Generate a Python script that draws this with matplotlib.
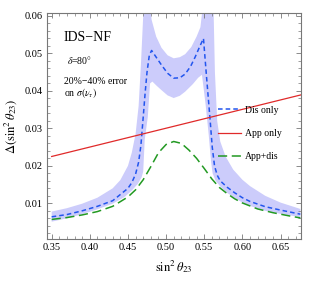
import numpy as np
import matplotlib
matplotlib.use('Agg')
import matplotlib.pyplot as plt
from matplotlib.ticker import MultipleLocator

plt.rcParams['font.family'] = ['Liberation Serif', 'DejaVu Serif']
plt.rcParams['mathtext.fontset'] = 'stix'

# Dis only (central curve)
dis_x = [0.35, 0.37, 0.39, 0.41, 0.43, 0.45, 0.455, 0.46, 0.464, 0.467, 0.470, 0.4725, 0.475, 0.478,
         0.481, 0.487, 0.494, 0.502, 0.51, 0.518, 0.525, 0.532, 0.538, 0.544, 0.549,
         0.553, 0.5577, 0.5605, 0.5635, 0.567, 0.571, 0.58, 0.59, 0.60, 0.61, 0.63, 0.65, 0.676]
dis_y = [0.0064, 0.0070, 0.0080, 0.0092, 0.0107, 0.0140, 0.0155, 0.0178, 0.0210, 0.0255, 0.0330, 0.0394,
         0.0450, 0.0495, 0.0508, 0.0490, 0.0469, 0.0447, 0.0434, 0.0435, 0.0445, 0.0465, 0.0490, 0.0518,
         0.0540, 0.0438, 0.0323, 0.0250, 0.0200, 0.0175, 0.0160, 0.0143, 0.0128, 0.0115, 0.0105, 0.0091,
         0.0082, 0.0071]

# Dis only error band (20%-40% error on sigma(nu_tau))
band_hi_x = [0.35, 0.37, 0.39, 0.41, 0.43, 0.44, 0.45, 0.455, 0.46, 0.464, 0.467, 0.470, 0.472,
             0.478, 0.481, 0.487, 0.494, 0.502, 0.51, 0.518, 0.525, 0.533, 0.540, 0.545, 0.549,
             0.562, 0.564, 0.567, 0.571, 0.578, 0.588, 0.60, 0.61, 0.63, 0.65, 0.676]
band_hi = [0.0078, 0.0087, 0.0099, 0.0115, 0.0140, 0.0162, 0.0200, 0.0235, 0.0285, 0.0360, 0.0470, 0.0600,
           0.0660, 0.0660, 0.0590, 0.0545, 0.0515, 0.0495, 0.0487, 0.0490, 0.0498, 0.0517, 0.0545, 0.0570,
           0.0640, 0.0640, 0.0450, 0.0320, 0.0265, 0.0225, 0.0190, 0.0163, 0.0146, 0.0120, 0.0102, 0.0085]
band_lo_x = [0.35, 0.37, 0.39, 0.41, 0.43, 0.445, 0.455, 0.463, 0.468, 0.470, 0.472, 0.476, 0.479,
             0.482, 0.488, 0.494, 0.502, 0.51, 0.518, 0.525, 0.535, 0.542, 0.547, 0.549, 0.552,
             0.556, 0.559, 0.561, 0.565, 0.571, 0.58, 0.59, 0.60, 0.61, 0.63, 0.65, 0.676]
band_lo = [0.0051, 0.0060, 0.0071, 0.0084, 0.0099, 0.0116, 0.0134, 0.0152, 0.0170, 0.0185, 0.0270, 0.0330,
           0.0420, 0.0425, 0.0413, 0.0402, 0.0388, 0.0381, 0.0387, 0.0398, 0.0418, 0.0435, 0.0443, 0.0410,
           0.0360, 0.0280, 0.0210, 0.0180, 0.0160, 0.0145, 0.0128, 0.0114, 0.0102, 0.0093, 0.0080, 0.0072,
           0.0063]

# App only
app_x = [0.35, 0.68]
app_y = [0.0225, 0.0391]

# App+dis
both_x = [0.35, 0.37, 0.39, 0.41, 0.43, 0.45, 0.46, 0.47, 0.48, 0.49, 0.50, 0.51, 0.52, 0.53, 0.54,
          0.55, 0.56, 0.57, 0.58, 0.59, 0.60, 0.62, 0.64, 0.66, 0.676]
both_y = [0.0057, 0.0062, 0.0069, 0.0078, 0.0092, 0.0117, 0.0136, 0.0163, 0.0198, 0.0235, 0.0257, 0.0265,
          0.0260, 0.0242, 0.0220, 0.0193, 0.0165, 0.0142, 0.0126, 0.0112, 0.0101, 0.0085, 0.0075, 0.0067,
          0.0061]

fig = plt.figure(figsize=(3.13, 2.81), dpi=100)
ax = fig.add_axes([0.149, 0.1495, 0.813, 0.803])

px = np.concatenate([band_hi_x, band_lo_x[::-1]])
py = np.concatenate([band_hi, band_lo[::-1]])
ax.fill(px, py, color='#ccccfb', lw=0, zorder=1)

ax.plot(dis_x, dis_y, color='#2255ee', lw=1.1, dashes=(3, 2), label='Dis only', zorder=3)
ax.plot(app_x, app_y, color='#e02a2a', lw=0.9, label='App only', zorder=3)
ax.plot(both_x, both_y, color='#229922', lw=1.1, dashes=(6, 3), label='App+dis', zorder=3)

ax.set_xlim(0.3434, 0.677)
ax.set_ylim(0.00048, 0.0607)
ax.xaxis.set_major_locator(MultipleLocator(0.05))
ax.xaxis.set_minor_locator(MultipleLocator(0.01))
ax.yaxis.set_major_locator(MultipleLocator(0.01))
ax.yaxis.set_minor_locator(MultipleLocator(0.002))
ax.set_yticks([0.01, 0.02, 0.03, 0.04, 0.05, 0.06])
ax.set_xticks([0.35, 0.40, 0.45, 0.50, 0.55, 0.60, 0.65])
ax.set_xticklabels(['0.35', '0.40', '0.45', '0.50', '0.55', '0.60', '0.65'])
ax.set_yticklabels(['0.01', '0.02', '0.03', '0.04', '0.05', '0.06'])
ax.tick_params(which='both', direction='in', top=True, right=True, labelsize=7.5, color='#777777', pad=3)
ax.tick_params(which='major', length=3.5, width=0.6)
ax.tick_params(which='minor', length=2, width=0.5)
for s in ax.spines.values():
    s.set_color('#777777')
    s.set_linewidth(0.8)

ax.set_xlabel(r'$\sin^2\theta_{23}$', fontsize=9, labelpad=4)
ax.set_ylabel(r'$\Delta(\sin^2\theta_{23})$', fontsize=9, labelpad=4)

ax.text(0.065, 0.895, 'IDS\u2212NF', transform=ax.transAxes, fontsize=10, va='center')
ax.text(0.08, 0.795, r'$\delta$=80$\degree$', transform=ax.transAxes, fontsize=7, va='center')
ax.text(0.068, 0.70, '20%\u221240% error', transform=ax.transAxes, fontsize=7, va='center')
ax.text(0.068, 0.647, r'on $\sigma(\nu_\tau)$', transform=ax.transAxes, fontsize=7, va='center')

ax.legend(loc='upper left', bbox_to_anchor=(0.674, 0.59), frameon=False, fontsize=7,
          handlelength=2.3, handletextpad=0.5, labelspacing=1.45, borderpad=0, borderaxespad=0)

fig.savefig('out.png', dpi=100)
